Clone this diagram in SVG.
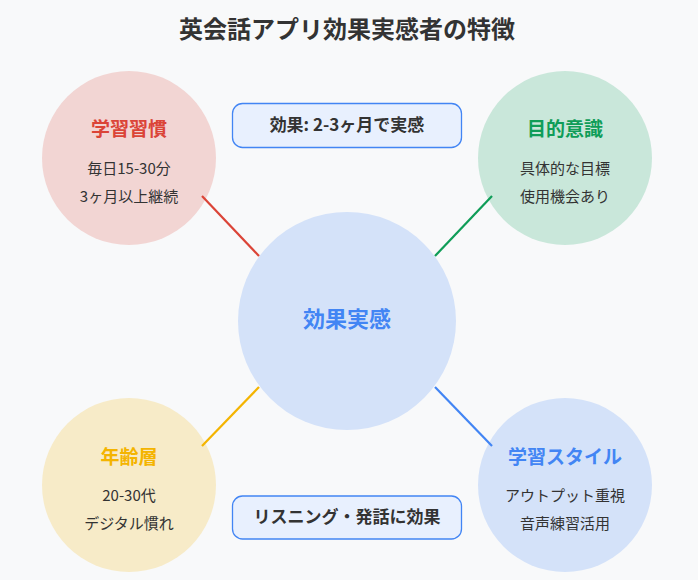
<svg xmlns="http://www.w3.org/2000/svg" width="698" height="580" viewBox="0 0 698 580">
<style>
text{font-family:"Noto Sans CJK JP","Noto Sans",sans-serif;text-anchor:middle}
.title{font-size:24px;font-weight:bold;fill:#333}
.ntitle{font-size:19px;font-weight:bold}
.sub{font-size:15px;fill:#333}
.box{fill:#e8f0fe;stroke:#4285f4;stroke-width:1.3}
.boxt{font-size:17px;font-weight:bold;fill:#333}
.conn{stroke-width:2.2;fill:none}
</style>
<rect width="698" height="580" fill="#f8f9fa"/>
<text class="title" x="347" y="38">英会話アプリ効果実感者の特徴</text>
<g id="center">
<circle cx="347" cy="321" r="109" fill="#d4e2f9"/>
<text x="347" y="327" style="font-size:22px;font-weight:bold;fill:#4285f4">効果実感</text>
</g>
<g id="habit">
<circle cx="129" cy="158" r="87" fill="#f2d5d3"/>
<text class="ntitle" x="129" y="136" fill="#db4437">学習習慣</text>
<text class="sub" x="129" y="174">毎日15-30分</text>
<text class="sub" x="129" y="202">3ヶ月以上継続</text>
</g>
<g id="purpose">
<circle cx="565" cy="158" r="87" fill="#c9e7da"/>
<text class="ntitle" x="565" y="136" fill="#0f9d58">目的意識</text>
<text class="sub" x="565" y="174">具体的な目標</text>
<text class="sub" x="565" y="202">使用機会あり</text>
</g>
<g id="age">
<circle cx="129" cy="485" r="87" fill="#f7ebc8"/>
<text class="ntitle" x="129" y="464" fill="#f4b400">年齢層</text>
<text class="sub" x="129" y="501">20-30代</text>
<text class="sub" x="129" y="529">デジタル慣れ</text>
</g>
<g id="style">
<circle cx="565" cy="485" r="87" fill="#d4e2f9"/>
<text class="ntitle" x="565" y="464" fill="#4285f4">学習スタイル</text>
<text class="sub" x="565" y="501">アウトプット重視</text>
<text class="sub" x="565" y="529">音声練習活用</text>
</g>
<g id="connectors">
<line class="conn" x1="202" y1="196" x2="259" y2="256" stroke="#db4437"/>
<line class="conn" x1="492" y1="196" x2="435" y2="256" stroke="#0f9d58"/>
<line class="conn" x1="259" y1="387" x2="202" y2="446" stroke="#f4b400"/>
<line class="conn" x1="435" y1="387" x2="492" y2="446" stroke="#4285f4"/>
</g>
<g id="note-top">
<rect class="box" x="232.5" y="103.5" width="229" height="44" rx="10"/>
<text class="boxt" x="347" y="131">効果: 2-3ヶ月で実感</text>
</g>
<g id="note-bottom">
<rect class="box" x="232.5" y="496" width="229" height="43" rx="10"/>
<text class="boxt" x="347" y="523">リスニング・発話に効果</text>
</g>
</svg>
